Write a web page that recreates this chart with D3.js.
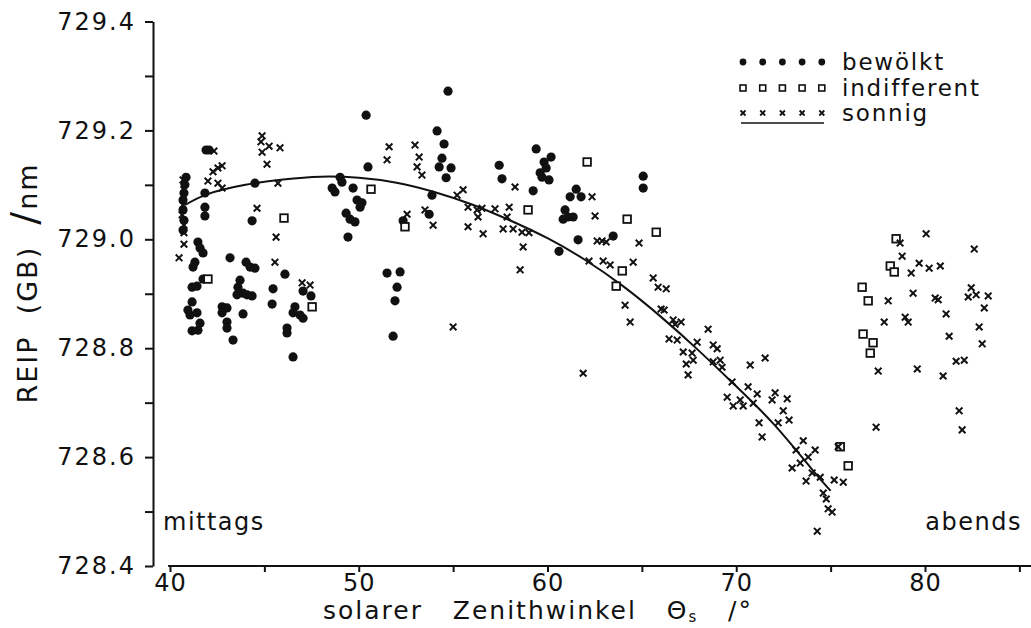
<!DOCTYPE html>
<html><head><meta charset="utf-8">
<script src="https://cdn.jsdelivr.net/npm/d3@7"></script>
<style>
body{margin:0;background:#fff}
svg text{font-family:"DejaVu Sans",sans-serif;fill:#111}
</style>
</head><body>
<svg id="chart" width="1031" height="628"></svg>
<script>
// ---- data (solar zenith angle [deg], REIP(GB) [nm]) ----
const bewoelkt = [
[40.85,729.114],[40.79,729.100],[40.74,729.085],[40.69,729.072],[40.69,729.054],[40.74,729.035],[40.69,729.017],
[41.91,729.164],[42.07,729.164],[41.85,729.085],[41.85,729.059],[41.85,729.043],[44.50,729.103],[44.35,729.034],
[41.48,728.995],[41.59,728.984],[41.75,728.975],[41.32,728.958],[41.22,728.949],[41.75,728.927],[41.17,728.912],
[41.43,728.914],[41.17,728.885],[40.95,728.870],[41.06,728.861],[41.43,728.865],[41.59,728.846],[41.17,728.832],
[41.48,728.833],[43.18,728.966],[44.03,728.958],[44.24,728.949],[44.50,728.947],[43.71,728.925],[43.60,728.912],
[43.55,728.898],[43.87,728.901],[44.08,728.898],[44.35,728.896],[42.76,728.876],[43.02,728.874],[43.87,728.863],
[42.76,728.865],[43.02,728.848],[43.02,728.837],[43.34,728.815],[46.09,728.936],[45.46,728.909],[45.41,728.881],
[47.05,728.905],[47.47,728.896],[46.62,728.876],[46.52,728.865],[46.89,728.861],[47.05,728.855],[46.20,728.837],
[46.20,728.828],[46.52,728.784],[48.59,729.094],[48.74,729.087],[49.01,729.114],[49.11,729.105],[49.70,729.094],
[49.91,729.072],[50.17,729.067],[50.07,729.059],[49.33,729.048],[49.54,729.037],[49.80,729.032],[49.43,729.004],
[50.39,729.228],[50.49,729.133],[51.50,728.938],[52.19,728.940],[52.03,728.912],[51.92,728.887],[51.82,728.822],
[52.35,729.034],[53.73,729.046],[53.88,729.081],[54.15,729.199],[54.52,729.175],[54.41,729.149],[54.26,729.133],
[54.89,729.131],[54.63,729.113],[54.73,729.272],[57.44,729.136],[57.59,729.111],[59.40,729.166],[59.82,729.142],
[60.19,729.151],[59.93,729.131],[59.61,729.122],[59.71,729.114],[60.08,729.109],[59.24,729.089],[61.52,729.092],
[61.20,729.078],[61.78,729.078],[60.93,729.054],[60.83,729.037],[61.09,729.041],[61.36,729.041],[61.62,728.999],
[60.61,728.978],[63.48,729.006],[65.07,729.116],[65.07,729.094]
];
const indifferent = [
[42.01,728.927],[46.04,729.039],[47.53,728.876],[50.65,729.092],[52.45,729.023],[58.97,729.054],[62.10,729.142],
[64.22,729.037],[65.76,729.013],[63.96,728.942],[63.64,728.914],[75.51,728.619],[75.93,728.584],[78.47,729.001],
[78.16,728.951],[78.37,728.940],[76.67,728.912],[76.99,728.887],[76.72,728.826],[77.25,728.810],[77.10,728.791]
];
const sonnig = [
[40.69,729.109],[40.74,729.091],[40.69,729.063],[40.64,729.045],[40.74,729.026],[40.74,729.012],[40.74,728.991],
[40.48,728.966],[42.33,729.162],[42.01,729.107],[42.28,729.124],[42.54,729.131],[42.76,729.135],[42.54,729.103],
[42.76,729.094],[44.61,729.057],[44.88,729.190],[44.82,729.179],[45.25,729.171],[44.88,729.160],[45.83,729.168],
[45.14,729.138],[45.72,729.103],[45.62,729.004],[45.56,728.958],[47.00,728.920],[47.42,728.916],[51.61,729.170],
[51.50,729.146],[52.98,729.173],[53.20,729.151],[53.09,729.133],[53.35,729.118],[52.56,729.046],[53.51,729.054],
[53.94,729.026],[55.21,729.081],[55.53,729.091],[55.79,729.059],[56.27,729.054],[56.32,729.041],[56.53,729.057],
[55.79,729.023],[56.59,729.010],[57.22,729.056],[57.97,729.059],[57.86,729.041],[58.28,729.096],[57.65,729.019],
[58.18,729.019],[58.65,729.013],[59.02,729.012],[58.71,728.986],[58.55,728.944],[55.00,728.839],[62.36,729.078],
[62.52,729.043],[62.63,728.997],[62.89,728.997],[63.11,728.995],[64.85,728.993],[62.20,728.960],[62.95,728.960],
[63.32,728.953],[64.54,728.958],[61.89,728.754],[65.60,728.929],[65.86,728.912],[66.29,728.909],[64.11,728.879],
[64.38,728.848],[66.02,728.872],[66.18,728.870],[66.66,728.852],[67.08,728.848],[66.76,728.844],[66.44,728.817],
[66.87,728.815],[67.19,728.793],[67.66,728.791],[67.35,728.771],[67.72,728.778],[67.45,728.751],[68.51,728.835],
[67.93,728.811],[68.78,728.806],[68.99,728.799],[68.78,728.775],[69.15,728.778],[69.25,728.765],[70.74,728.769],
[71.53,728.782],[69.78,728.738],[70.63,728.729],[71.11,728.716],[72.06,728.718],[72.70,728.707],[71.90,728.705],
[69.52,728.710],[69.84,728.694],[70.21,728.705],[70.37,728.694],[70.90,728.699],[72.49,728.685],[72.80,728.668],
[71.21,728.663],[72.22,728.663],[71.37,728.637],[73.55,728.630],[73.17,728.613],[74.18,728.613],[73.81,728.600],
[73.39,728.589],[72.96,728.580],[74.02,728.571],[74.45,728.563],[73.70,728.556],[75.19,728.558],[75.67,728.554],
[74.61,728.534],[74.77,728.523],[74.87,728.505],[75.08,728.499],[74.29,728.464],[75.40,728.619],
[78.68,728.993],[80.06,729.010],[82.61,728.982],[78.79,728.969],[79.69,728.956],[79.27,728.938],[80.22,728.947],
[80.81,728.951],[79.37,728.901],[82.45,728.911],[82.29,728.894],[82.71,728.898],[83.35,728.896],[78.05,728.887],
[80.54,728.892],[80.70,728.889],[83.14,728.874],[81.12,728.863],[77.84,728.848],[78.95,728.857],[79.11,728.848],
[82.87,728.839],[81.28,728.822],[83.03,728.808],[81.65,728.776],[82.08,728.778],[77.52,728.758],[79.59,728.762],
[80.96,728.749],[81.81,728.685],[81.97,728.650],[77.41,728.655]
];
// fitted curve (sonnig)
const fitCurve = [
[40.8,729.063],[42,729.083],[44,729.100],[46,729.110],[48,729.115],[50,729.113],[52,729.104],[54,729.087],
[56,729.064],[58,729.035],[60,729.002],[62,728.962],[64,728.914],[66,728.858],[68,728.796],[70,728.730],
[72,728.660],[74,728.578],[75,728.538]
];
const xTickValues = [40,45,50,55,60,65,70,75,80,85];
const xTickLabels = [40,50,60,70,80];
const yTickValues = [728.4,728.5,728.6,728.7,728.8,728.9,729.0,729.1,729.2,729.3,729.4];
const yTickLabels = [728.4,728.6,728.8,729.0,729.2,729.4];
const legendItems = ["bewölkt","indifferent","sonnig"];

// ---- drawing ----
const svg = d3.select("#chart");
const x = d3.scaleLinear().domain([40,80]).range([170,925]);
const y = d3.scaleLinear().domain([728.4,729.4]).range([566,21.5]);

// y axis
const yAxis = svg.append("g").attr("transform","translate(153,0)")
  .call(d3.axisLeft(y).tickValues(yTickValues).tickSize(8).tickSizeOuter(0).tickPadding(9)
    .tickFormat(d => yTickLabels.some(v=>Math.abs(v-d)<1e-6) ? d.toFixed(1) : ""));
yAxis.selectAll("path,line").attr("stroke","#111").attr("stroke-width",2);
yAxis.selectAll("text").style("font-size","24px").style("letter-spacing","2px").attr("fill","#111");

// x axis
const xAxis = svg.append("g").attr("transform","translate(0,566)")
  .call(d3.axisBottom(x).tickValues(xTickValues).tickSize(6).tickSizeOuter(0).tickPadding(2)
    .tickFormat(d => xTickLabels.includes(d) ? d : ""));
xAxis.select(".domain").attr("d", `M${x(39.9)},0H1031`);
xAxis.selectAll("path,line").attr("stroke","#111").attr("stroke-width",2);
xAxis.selectAll("text").style("font-size","24px").style("letter-spacing","1px").attr("fill","#111");

// axis titles
svg.append("text").attr("x",538).attr("y",619).attr("text-anchor","middle")
  .style("font-size","25px").style("letter-spacing","2px").style("white-space","pre")
  .html('solarer   Zenithwinkel   Θ<tspan font-size="15px" dy="3">s</tspan><tspan dy="-3">   /°</tspan>');
svg.append("text").attr("transform","translate(37,283) rotate(-90)").attr("text-anchor","middle")
  .style("font-size","27px").style("letter-spacing","2px").style("white-space","pre")
  .html('REIP  (GB)  <tspan font-size="38px">/</tspan>nm');

svg.append("text").attr("x",163).attr("y",530).style("font-size","24px").style("letter-spacing","1.5px").text("mittags");
svg.append("text").attr("x",1022).attr("y",530).attr("text-anchor","end").style("font-size","24px").style("letter-spacing","1.5px").text("abends");

// fit line
svg.append("path").datum(fitCurve)
  .attr("d", d3.line().x(d=>x(d[0])).y(d=>y(d[1])).curve(d3.curveNatural))
  .attr("fill","none").attr("stroke","#111").attr("stroke-width",2);

// markers
svg.append("g").selectAll("circle").data(bewoelkt).join("circle")
  .attr("cx",d=>x(d[0])).attr("cy",d=>y(d[1])).attr("r",4.6).attr("fill","#111");
svg.append("g").selectAll("rect").data(indifferent).join("rect")
  .attr("x",d=>x(d[0])-3.8).attr("y",d=>y(d[1])-3.8).attr("width",7.6).attr("height",7.6)
  .attr("fill","#fff").attr("stroke","#111").attr("stroke-width",1.8);
const cross = "M-3.3,-3.3L3.3,3.3M-3.3,3.3L3.3,-3.3";
svg.append("g").selectAll("path").data(sonnig).join("path")
  .attr("d",cross).attr("transform",d=>`translate(${x(d[0])},${y(d[1])})`)
  .attr("stroke","#111").attr("stroke-width",2).attr("fill","none");

// legend
const lg = svg.append("g");
const lx = d3.range(5).map(i=>743+i*19.7);
const rowY = [62,88,113];
lg.selectAll("circle").data(lx).join("circle").attr("cx",d=>d).attr("cy",rowY[0]).attr("r",3.4).attr("fill","#111");
lg.selectAll("rect").data(lx).join("rect").attr("x",d=>d-3).attr("y",rowY[1]-3).attr("width",6).attr("height",6)
  .attr("fill","#fff").attr("stroke","#111").attr("stroke-width",1.6);
lg.selectAll("path.lx").data(lx).join("path").attr("class","lx")
  .attr("d","M-2.5,-2.5L2.5,2.5M-2.5,2.5L2.5,-2.5").attr("transform",d=>`translate(${d},${rowY[2]})`)
  .attr("stroke","#111").attr("stroke-width",1.8);
lg.append("line").attr("x1",741).attr("x2",824).attr("y1",123).attr("y2",123).attr("stroke","#111").attr("stroke-width",1.6);
lg.selectAll("text").data(legendItems).join("text").attr("x",842).attr("y",(d,i)=>rowY[i]+8)
  .style("font-size","23px").style("letter-spacing","1.8px").text(d=>d);
</script>
</body></html>
